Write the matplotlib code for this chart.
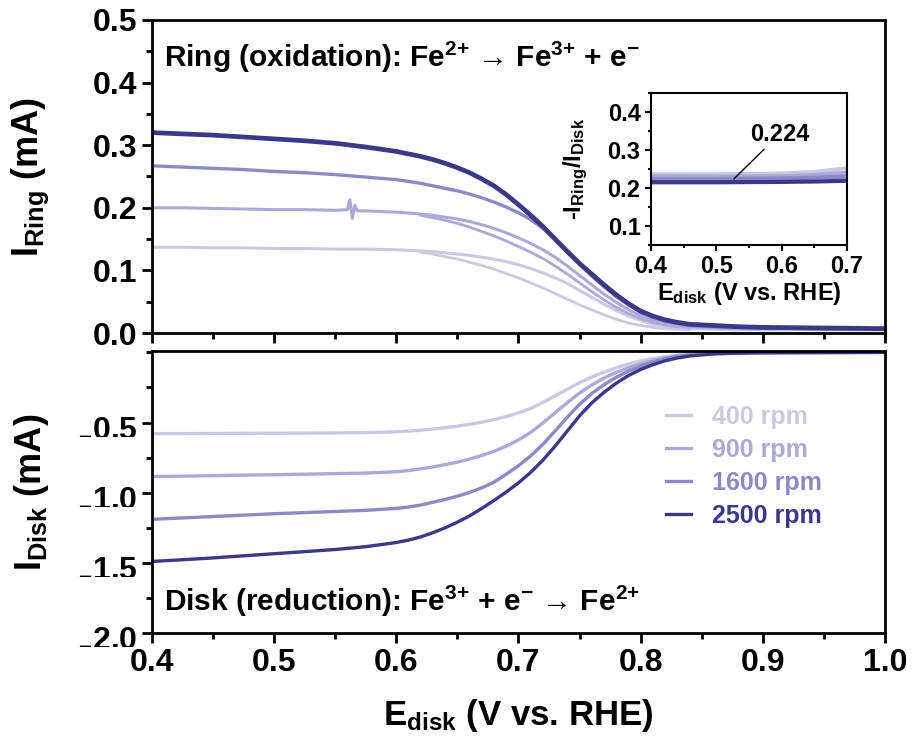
import matplotlib
matplotlib.use('Agg')
import matplotlib.pyplot as plt
from matplotlib.ticker import MultipleLocator

plt.rcParams['font.family'] = ['Liberation Sans', 'DejaVu Sans']
plt.rcParams['font.weight'] = 'bold'
plt.rcParams['mathtext.default'] = 'regular'

# ring current (mA) vs disk potential (V vs. RHE)
E_ring = [0.40, 0.425, 0.45, 0.475, 0.50, 0.525, 0.55, 0.575, 0.60, 0.62, 0.63, 0.64,
          0.65, 0.66, 0.67, 0.68, 0.69, 0.70, 0.71, 0.72, 0.73, 0.74, 0.75, 0.76,
          0.77, 0.78, 0.79, 0.80, 0.81, 0.82, 0.83, 0.84, 0.86, 0.88, 0.90, 0.95, 1.00]
ring_400 = [0.137, 0.137, 0.136, 0.136, 0.135, 0.135, 0.134, 0.134, 0.133, 0.131, 0.130, 0.128,
            0.126, 0.124, 0.121, 0.118, 0.114, 0.109, 0.103, 0.096, 0.088, 0.079, 0.068, 0.057,
            0.046, 0.036, 0.027, 0.020, 0.014, 0.011, 0.009, 0.007, 0.006, 0.005, 0.005, 0.005, 0.005]
ring_1600 = [0.267, 0.265, 0.263, 0.261, 0.258, 0.256, 0.253, 0.249, 0.245, 0.239, 0.235, 0.231,
             0.227, 0.222, 0.216, 0.209, 0.201, 0.192, 0.181, 0.167, 0.150, 0.130, 0.110, 0.091,
             0.074, 0.058, 0.045, 0.033, 0.025, 0.019, 0.015, 0.012, 0.010, 0.009, 0.008, 0.007, 0.006]
ring_2500 = [0.320, 0.318, 0.316, 0.313, 0.310, 0.307, 0.303, 0.297, 0.290, 0.282, 0.277, 0.271,
             0.264, 0.256, 0.246, 0.235, 0.221, 0.205, 0.188, 0.170, 0.150, 0.130, 0.111, 0.094,
             0.077, 0.061, 0.047, 0.035, 0.027, 0.021, 0.017, 0.014, 0.012, 0.010, 0.009, 0.008, 0.007]

# 900 rpm carries a small glitch around 0.56 V
E_ring_900 = [0.40, 0.425, 0.45, 0.475, 0.50, 0.525, 0.55, 0.560, 0.562, 0.564, 0.566, 0.568,
              0.575, 0.60, 0.62, 0.63, 0.64, 0.65, 0.66, 0.67, 0.68, 0.69, 0.70, 0.71, 0.72,
              0.73, 0.74, 0.75, 0.76, 0.77, 0.78, 0.79, 0.80, 0.81, 0.82, 0.83, 0.84, 0.86,
              0.88, 0.90, 0.95, 1.00]
ring_900 = [0.200, 0.200, 0.199, 0.198, 0.197, 0.197, 0.196, 0.197, 0.213, 0.183, 0.204, 0.195,
            0.195, 0.193, 0.190, 0.188, 0.185, 0.182, 0.178, 0.173, 0.167, 0.160, 0.152, 0.143,
            0.133, 0.121, 0.107, 0.092, 0.077, 0.062, 0.049, 0.037, 0.028, 0.021, 0.016, 0.012,
            0.010, 0.008, 0.007, 0.007, 0.006, 0.006]

# return scans that split off in the falling part
E_back = [0.62, 0.63, 0.64, 0.65, 0.66, 0.67, 0.68, 0.69, 0.70, 0.71, 0.72, 0.73,
          0.74, 0.75, 0.76, 0.77, 0.78, 0.79, 0.80, 0.81, 0.82, 0.83, 0.84]
ring_400_back = [0.129, 0.126, 0.122, 0.118, 0.113, 0.108, 0.102, 0.095, 0.088, 0.080, 0.072, 0.063,
                 0.054, 0.045, 0.037, 0.029, 0.022, 0.016, 0.012, 0.009, 0.007, 0.006, 0.005]
ring_900_back = [0.188, 0.184, 0.180, 0.175, 0.169, 0.162, 0.155, 0.147, 0.138, 0.129, 0.119, 0.107,
                 0.094, 0.080, 0.066, 0.053, 0.041, 0.031, 0.023, 0.017, 0.013, 0.010, 0.009]

# disk current (mA)
E_disk = [0.40, 0.425, 0.45, 0.475, 0.50, 0.525, 0.55, 0.575, 0.60, 0.61, 0.62, 0.63, 0.64,
          0.65, 0.66, 0.67, 0.68, 0.69, 0.70, 0.71, 0.72, 0.73, 0.74, 0.75, 0.76, 0.77,
          0.78, 0.79, 0.80, 0.81, 0.82, 0.83, 0.84, 0.86, 0.88, 0.90, 0.95, 1.00]
disk_400 = [-0.579, -0.579, -0.578, -0.577, -0.576, -0.575, -0.574, -0.572, -0.566, -0.561,
            -0.555, -0.546, -0.537, -0.526, -0.513, -0.497, -0.479, -0.457, -0.431, -0.400,
            -0.357, -0.310, -0.262, -0.216, -0.176, -0.141, -0.110, -0.083, -0.061, -0.044,
            -0.031, -0.021, -0.014, -0.006, -0.003, -0.002, -0.001, 0.0]
disk_900 = [-0.885, -0.882, -0.879, -0.875, -0.872, -0.868, -0.864, -0.860, -0.851, -0.842,
            -0.830, -0.816, -0.800, -0.782, -0.760, -0.735, -0.705, -0.668, -0.624, -0.570,
            -0.503, -0.430, -0.358, -0.290, -0.232, -0.183, -0.143, -0.110, -0.082, -0.060,
            -0.040, -0.024, -0.015, -0.007, -0.003, -0.002, -0.001, 0.0]
disk_1600 = [-1.190, -1.180, -1.170, -1.160, -1.150, -1.142, -1.134, -1.126, -1.112, -1.102,
             -1.088, -1.068, -1.048, -1.025, -0.998, -0.965, -0.925, -0.868, -0.808, -0.738,
             -0.655, -0.560, -0.462, -0.370, -0.293, -0.230, -0.177, -0.134, -0.098, -0.068,
             -0.045, -0.030, -0.019, -0.008, -0.004, -0.002, -0.001, 0.0]
disk_2500 = [-1.490, -1.478, -1.465, -1.450, -1.435, -1.420, -1.405, -1.385, -1.355, -1.338,
             -1.315, -1.285, -1.250, -1.210, -1.165, -1.112, -1.055, -0.995, -0.930, -0.855,
             -0.768, -0.668, -0.560, -0.452, -0.360, -0.285, -0.220, -0.165, -0.122, -0.088,
             -0.060, -0.040, -0.026, -0.011, -0.005, -0.002, -0.001, 0.0]

# collection efficiency -I_ring/I_disk
E_ratio = [0.40, 0.50, 0.60, 0.65, 0.70]
ratio_400 = [0.236, 0.236, 0.238, 0.242, 0.252]
ratio_900 = [0.231, 0.230, 0.231, 0.234, 0.240]
ratio_1600 = [0.224, 0.224, 0.225, 0.227, 0.230]
ratio_2500 = [0.215, 0.215, 0.216, 0.217, 0.219]
N_mean = 0.224

labels = ['400 rpm', '900 rpm', '1600 rpm', '2500 rpm']
colors = ['#c9c9e5', '#aaa9d7', '#8b89c6', '#3a3888']

# "{+}" keeps mathtext from spacing the charge sign like a binary operator
ring_title = 'Ring (oxidation): Fe$^{2{+}}$ \u2192 Fe$^{3{+}}$ + e$^{-}$'
disk_title = 'Disk (reduction): Fe$^{3{+}}$ + e$^{-}$ \u2192 Fe$^{2{+}}$'

fig = plt.figure(figsize=(9.13, 7.49), dpi=100)
ax1 = fig.add_axes([0.1665, 0.5554, 0.8028, 0.4180])
ax2 = fig.add_axes([0.1665, 0.1549, 0.8028, 0.3765])

# --- ring
ax1.plot(E_ring, ring_400, color=colors[0], lw=2.2)
ax1.plot(E_back, ring_400_back, color=colors[0], lw=2.0)
ax1.plot(E_ring_900, ring_900, color=colors[1], lw=2.2)
ax1.plot(E_back, ring_900_back, color=colors[1], lw=2.0)
ax1.plot(E_ring, ring_1600, color=colors[2], lw=2.4)
ax1.plot(E_ring, ring_2500, color=colors[3], lw=3.4)
ax1.set_xlim(0.4, 1.0)
ax1.set_ylim(0, 0.5)
ax1.xaxis.set_major_locator(MultipleLocator(0.1))
ax1.xaxis.set_minor_locator(MultipleLocator(0.05))
ax1.yaxis.set_major_locator(MultipleLocator(0.1))
ax1.yaxis.set_minor_locator(MultipleLocator(0.05))
ax1.tick_params(axis='x', labelbottom=False)
ax1.set_ylabel('I$_{Ring}$ (mA)', fontsize=26, fontweight='bold')
ax1.text(0.017, 0.935, ring_title, transform=ax1.transAxes,
         fontsize=21.5, fontweight='bold', va='top')

# --- disk
for d, c, lab in zip([disk_400, disk_900, disk_1600, disk_2500], colors, labels):
    ax2.plot(E_disk, d, color=c, lw=2.4, label=lab)
ax2.set_xlim(0.4, 1.0)
ax2.set_ylim(-2.0, 0.01)
ax2.xaxis.set_major_locator(MultipleLocator(0.1))
ax2.xaxis.set_minor_locator(MultipleLocator(0.05))
yt = [-2.0, -1.5, -1.0, -0.5]
ax2.set_yticks(yt)
ax2.set_yticklabels(['$_{-}$%.1f' % abs(v) for v in yt])
ax2.yaxis.set_minor_locator(MultipleLocator(0.25))
ax2.set_ylabel('I$_{Disk}$ (mA)', fontsize=26, fontweight='bold')
ax2.set_xlabel('E$_{disk}$ (V vs. RHE)', fontsize=25, fontweight='bold', labelpad=14)
ax2.text(0.017, 0.05, disk_title, transform=ax2.transAxes,
         fontsize=21.5, fontweight='bold', va='bottom')
leg = ax2.legend(loc='upper left', bbox_to_anchor=(0.701, 0.81), frameon=False,
                 fontsize=18, handlelength=1.0, handletextpad=0.85, labelspacing=0.36,
                 borderpad=0, borderaxespad=0, labelcolor='linecolor')
for t in leg.get_texts():
    t.set_fontweight('bold')

for ax in (ax1, ax2):
    for s in ax.spines.values():
        s.set_linewidth(2.0)
    ax.tick_params(which='major', direction='out', length=7, width=2,
                   labelsize=23, top=False, right=False)
    ax.tick_params(which='minor', direction='out', length=4, width=2,
                   top=False, right=False)
    for lab in ax.get_xticklabels() + ax.get_yticklabels():
        lab.set_fontweight('bold')
    ax.yaxis.set_label_coords(-0.138, 0.5)

# --- inset: collection efficiency
ax3 = fig.add_axes([0.713, 0.6729, 0.2147, 0.2030])
for r, c in zip([ratio_400, ratio_900, ratio_1600, ratio_2500], colors):
    ax3.plot(E_ratio, r, color=c, lw=3.0)
ax3.set_xlim(0.4, 0.7)
ax3.set_ylim(0.05, 0.45)
ax3.xaxis.set_major_locator(MultipleLocator(0.1))
ax3.xaxis.set_minor_locator(MultipleLocator(0.05))
ax3.yaxis.set_major_locator(MultipleLocator(0.1))
ax3.yaxis.set_minor_locator(MultipleLocator(0.05))
for s in ax3.spines.values():
    s.set_linewidth(1.5)
ax3.tick_params(which='major', direction='out', length=4, width=1.5, labelsize=17)
ax3.tick_params(which='minor', direction='out', length=2.5, width=1.5)
for lab in ax3.get_xticklabels() + ax3.get_yticklabels():
    lab.set_fontweight('bold')
ax3.set_xlabel('E$_{disk}$ (V vs. RHE)', fontsize=17, fontweight='bold', labelpad=1)
ax3.set_ylabel('-I$_{Ring}$/I$_{Disk}$', fontsize=17, fontweight='bold')
ax3.yaxis.set_label_coords(-0.31, 0.5)
ax3.annotate('%.3f' % N_mean, xy=(0.527, N_mean), xytext=(0.597, 0.342), fontsize=17,
             fontweight='bold', ha='center', va='center',
             arrowprops=dict(arrowstyle='-', color='black', lw=1.0, shrinkA=1, shrinkB=0))

fig.savefig('out.png', dpi=100)
